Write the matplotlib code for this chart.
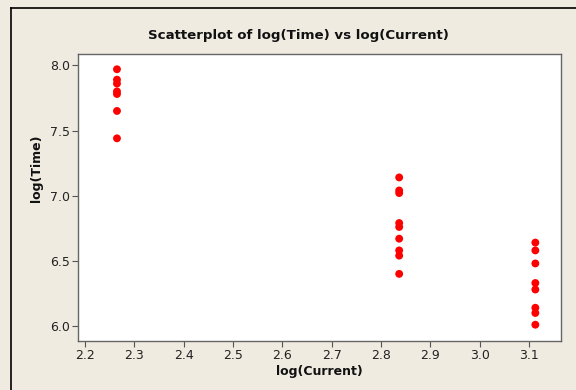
import matplotlib
matplotlib.use("Agg")
import matplotlib.pyplot as plt
from matplotlib.lines import Line2D

# Data
x_levels = [2.265, 2.837, 3.113]
time_g1 = [7.97, 7.89, 7.86, 7.80, 7.78, 7.65, 7.44]
time_g2 = [7.14, 7.04, 7.02, 6.79, 6.76, 6.67, 6.58, 6.54, 6.40]
time_g3 = [6.64, 6.58, 6.48, 6.33, 6.28, 6.14, 6.10, 6.01]
groups = [time_g1, time_g2, time_g3]

x_ticks = [2.2, 2.3, 2.4, 2.5, 2.6, 2.7, 2.8, 2.9, 3.0, 3.1]
y_ticks = [6.0, 6.5, 7.0, 7.5, 8.0]

W, H = 576, 390
bg = "#EFEBE1"
fig = plt.figure(figsize=(W / 100, H / 100), dpi=100, facecolor=bg)
ax = fig.add_axes([78 / W, 1 - 341 / H, (561 - 78) / W, (341 - 54) / H])
ax.set_facecolor("white")

for xv, ys in zip(x_levels, groups):
    ax.scatter([xv] * len(ys), ys, s=32, color="#FF0000", edgecolors="none", zorder=3)

ax.set_xlim(2.186, 3.165)
ax.set_ylim(5.885, 8.087)
ax.set_xticks(x_ticks)
ax.set_xticklabels([f"{t:.1f}" for t in x_ticks])
ax.set_yticks(y_ticks)
ax.set_yticklabels([f"{t:.1f}" for t in y_ticks])
ax.tick_params(direction="out", length=4, width=0.8, colors="#555555",
               labelcolor="#222222", labelsize=9, pad=2)
for s in ax.spines.values():
    s.set_color("#666666")
    s.set_linewidth(1.0)

fig.text(298 / W, 1 - 35 / H, "Scatterplot of log(Time) vs log(Current)",
         ha="center", va="center", fontsize=9.6, fontweight="bold", color="#111111")
fig.text(319 / W, 1 - 371 / H, "log(Current)", ha="center", va="center",
         fontsize=9, fontweight="bold", color="#111111")
fig.text(37 / W, 1 - 168 / H, "log(Time)", ha="center", va="center",
         rotation=90, fontsize=9, fontweight="bold", color="#111111")

# outer frame lines (left and top)
fig.add_artist(Line2D([11 / W, 11 / W], [0, 1 - 8 / H], transform=fig.transFigure,
                      color="black", linewidth=1.2))
fig.add_artist(Line2D([11 / W, 1], [1 - 8 / H, 1 - 8 / H], transform=fig.transFigure,
                      color="black", linewidth=1.2))

fig.savefig("out.png", dpi=100, facecolor=bg)
